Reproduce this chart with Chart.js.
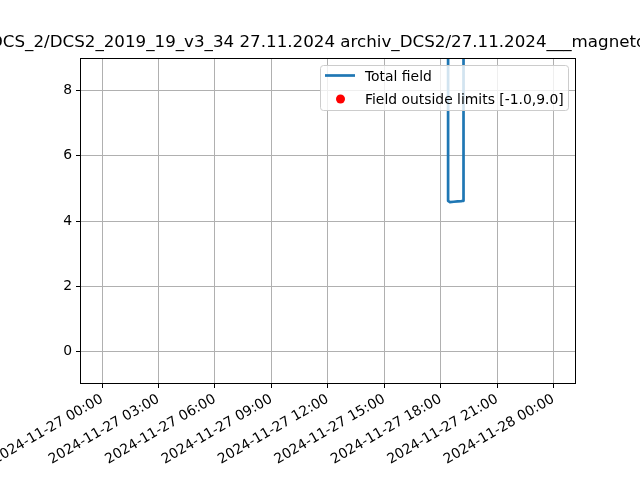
<!DOCTYPE html>
<html>
<head>
<meta charset="utf-8">
<script src="https://cdn.jsdelivr.net/npm/chart.js@4.4.1/dist/chart.umd.min.js"></script>
<style>
  html, body { margin: 0; padding: 0; background: #fff; }
  #wrap { width: 640px; height: 480px; }
</style>
</head>
<body>
<div id="wrap"><canvas id="c" width="640" height="480"></canvas></div>
<script>
// hours since 2024-11-27 00:00
const times = [0.03, 4, 8, 12, 16, 18.38, 18.4, 18.5, 18.7, 18.9, 19.1, 19.2, 19.22, 21, 23.98];
const totalField = [48200, 48200, 48200, 48200, 48200, 48200, 4.62, 4.58, 4.59, 4.6, 4.61, 4.62, 48200, 48200, 48200];
const yTicks = [0, 2, 4, 6, 8];
const limits = [-1.0, 9.0];
const titleText = 'DCS_2/DCS2_2019_19_v3_34 27.11.2024 archiv_DCS2/27.11.2024___magnetometer';

const linePts = times.map((t, i) => ({ x: t, y: totalField[i] }));
const outsidePts = linePts.filter(p => p.y < limits[0] || p.y > limits[1]);

const FONT = "'DejaVu Sans', sans-serif";

function hourLabel(h) {
    const day = h >= 24 ? 28 : 27;
    const hh = String(h % 24).padStart(2, '0');
    return '2024-11-' + day + ' ' + hh + ':00';
}

const decorations = {
    id: 'decorations',
    afterDraw(chart) {
        const ctx = chart.ctx;
        const a = chart.chartArea;
        ctx.save();
        // frame
        ctx.strokeStyle = '#000';
        ctx.lineWidth = 1;
        ctx.strokeRect(Math.round(a.left) + 0.5, Math.round(a.top) + 0.5,
            Math.round(a.right - a.left) - 1, Math.round(a.bottom - a.top) - 1);

        // title
        ctx.fillStyle = '#000';
        ctx.font = '16.7px ' + FONT;
        ctx.textAlign = 'left';
        ctx.textBaseline = 'alphabetic';
        ctx.fillText(titleText, -10, 47);

        // legend
        const lx = 320.5, ly = 65.5, lw = 248, lh = 45;
        ctx.beginPath();
        ctx.roundRect(lx, ly, lw, lh, 3);
        ctx.fillStyle = 'rgba(255,255,255,0.8)';
        ctx.fill();
        ctx.strokeStyle = '#cccccc';
        ctx.lineWidth = 1;
        ctx.stroke();

        ctx.beginPath();
        ctx.moveTo(325, 75.5);
        ctx.lineTo(355, 75.5);
        ctx.strokeStyle = '#1f77b4';
        ctx.lineWidth = 2.7;
        ctx.stroke();

        ctx.beginPath();
        ctx.arc(340.5, 99, 4.5, 0, Math.PI * 2);
        ctx.fillStyle = 'red';
        ctx.fill();

        ctx.fillStyle = '#000';
        ctx.font = '13.9px ' + FONT;
        ctx.fillText('Total field', 365, 80.5);
        ctx.fillText('Field outside limits [' + limits[0].toFixed(1) + ',' + limits[1].toFixed(1) + ']', 365, 104);
        ctx.restore();
    }
};

new Chart(document.getElementById('c'), {
    type: 'scatter',
    data: {
        datasets: [
            {
                label: 'Total field',
                data: linePts,
                showLine: true,
                borderColor: '#1f77b4',
                borderWidth: 2.7,
                borderJoinStyle: 'round',
                borderCapStyle: 'round',
                pointRadius: 0,
                fill: false
            },
            {
                label: 'Field outside limits',
                data: outsidePts,
                backgroundColor: 'red',
                borderColor: 'red',
                pointRadius: 4
            }
        ]
    },
    options: {
        responsive: false,
        animation: false,
        layout: { padding: { top: 58, right: 64, left: 0, bottom: 0 } },
        plugins: {
            legend: { display: false },
            title: { display: false },
            tooltip: { enabled: false }
        },
        scales: {
            x: {
                type: 'linear',
                min: -1.17,
                max: 25.2,
                afterFit: s => { s.height = 96; s.paddingLeft = 0; s.paddingRight = 0; },
                border: { display: false },
                grid: { color: '#b0b0b0', lineWidth: 1, tickColor: '#000', tickLength: 4 },
                ticks: {
                    stepSize: 3,
                    includeBounds: false,
                    minRotation: 30,
                    maxRotation: 30,
                    padding: 3,
                    color: '#000',
                    font: { family: FONT, size: 13.9 },
                    callback: v => hourLabel(v)
                }
            },
            y: {
                min: -1,
                max: 9,
                afterFit: s => { s.width = 80; s.paddingTop = 0; s.paddingBottom = 0; },
                afterBuildTicks: s => { s.ticks = yTicks.map(v => ({ value: v })); },
                border: { display: false },
                grid: { color: '#b0b0b0', lineWidth: 1, tickColor: '#000', tickLength: 4 },
                ticks: {
                    padding: 4,
                    color: '#000',
                    font: { family: FONT, size: 13.9 }
                }
            }
        }
    },
    plugins: [decorations]
});
</script>
</body>
</html>
